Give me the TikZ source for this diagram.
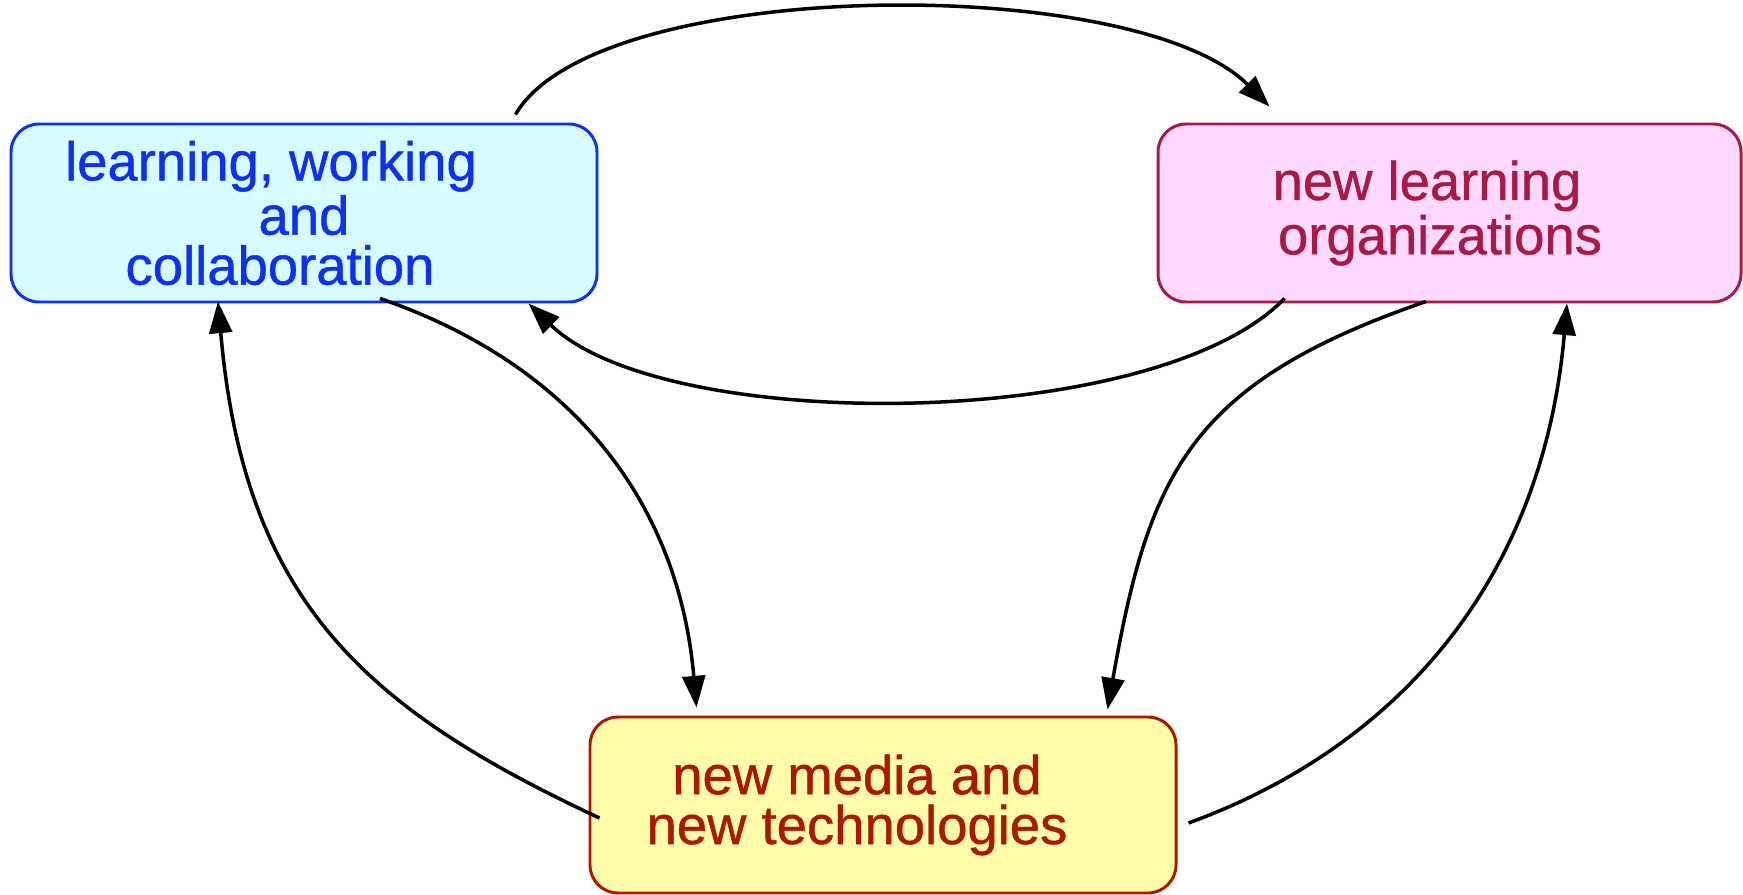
\documentclass[tikz,border=0pt]{standalone}
\usepackage{fontspec}
\setmainfont{Liberation Sans}
\newfontfamily\boxfont[FakeBold=0.8]{Liberation Sans}
\usepackage{tikz}
\usetikzlibrary{arrows.meta}

\definecolor{lwcfill}{HTML}{D6FCFF}
\definecolor{lwcline}{HTML}{1030F0}
\definecolor{orgfill}{HTML}{FDD9FF}
\definecolor{orgline}{HTML}{A81A45}
\definecolor{medfill}{HTML}{FFFCAA}
\definecolor{medline}{HTML}{AA1800}

\begin{document}
\begin{tikzpicture}
\useasboundingbox (0,0) rectangle (17.43,-8.95);
\begin{scope}[every node/.style={rectangle, rounded corners=0.28cm, line width=0.85pt,
              minimum width=5.86cm, minimum height=1.78cm, align=center,
              font=\boxfont\fontsize{15.5}{14.2}\selectfont}]
  \node[draw=lwcline, fill=lwcfill, text=lwcline] (L) at (3.04,-2.13)
    {learning, working\hspace*{0.66cm}\\and\\collaboration\hspace*{0.48cm}};
  \node[draw=orgline, fill=orgfill, text=orgline, minimum width=5.83cm] (O) at (14.495,-2.13)
    {new learning\hspace*{0.45cm}\\organizations\hspace*{0.19cm}};
  \node[draw=medline, fill=medfill, text=medline, minimum height=1.76cm] (M) at (8.83,-8.05)
    {new media and\hspace*{0.52cm}\\new technologies\hspace*{0.52cm}};
\end{scope}

\begin{scope}[>={Triangle[length=9pt,width=6.5pt]},
              every edge/.style={draw=black, line width=1pt}]
    \path [->] ([xshift=-0.83cm,yshift=0.08cm]L.north east) edge[out=60, in=135, out distance=1.6cm, in distance=1.9cm] ([xshift=1.13cm,yshift=0.16cm]O.north west);
    \path [->] ([xshift=1.28cm,yshift=0.05cm]O.south west) edge[out=226, in=316, out distance=1.85cm, in distance=1.9cm] ([xshift=-0.70cm]L.south east);
    \path [->] ([xshift=0.76cm,yshift=0.05cm]L.south) edge[out=-19, in=95, out distance=2.1cm, in distance=2.0cm] ([xshift=1.08cm,yshift=0.08cm]M.north west);
    \path [->] ([xshift=0.11cm,yshift=-0.13cm]M.west) edge[out=155, in=275, out distance=2.6cm, in distance=3.0cm] ([xshift=-0.86cm,yshift=0.02cm]L.south);
    \path [->] ([xshift=-0.235cm,yshift=0.02cm]O.south) edge[out=199, in=80, out distance=2.5cm, in distance=2.4cm] ([xshift=-0.70cm,yshift=0.06cm]M.north east);
    \path [->] ([xshift=0.11cm,yshift=-0.18cm]M.east) edge[out=20, in=265, out distance=2.2cm, in distance=2.8cm] ([xshift=1.175cm]O.south);
\end{scope}
\end{tikzpicture}
\end{document}
